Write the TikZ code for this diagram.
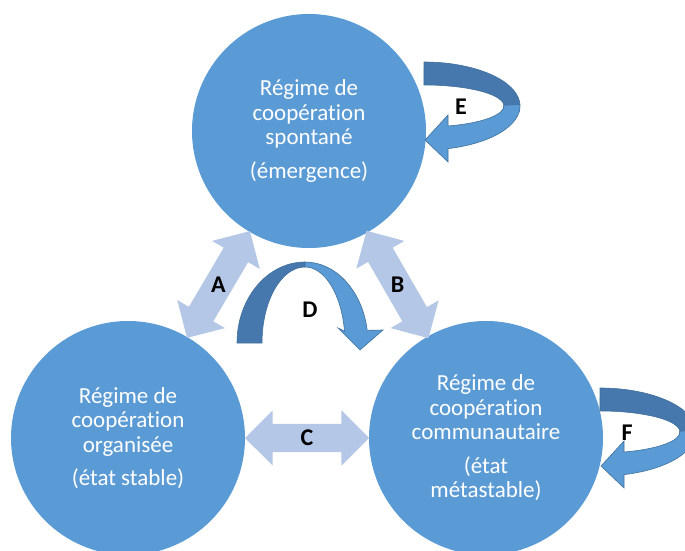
\documentclass[tikz,border=0pt]{standalone}
\usepackage{fontspec}
\setmainfont{Carlito}[Ligatures=NoCommon]
\usetikzlibrary{shapes.arrows}
\definecolor{bulle}{HTML}{5B9BD5}
\definecolor{pale}{HTML}{B4C7E7}
\definecolor{sombre}{HTML}{4677AD}
\definecolor{contour}{HTML}{41719C}

\begin{document}
\begin{tikzpicture}[x=1pt, y=1pt,
    regime/.style={circle, fill=bulle, minimum size=234pt, inner sep=0pt, text=white, align=center, font=\fontsize{23}{24.5}\selectfont},
    lien/.style={double arrow, fill=pale, double arrow head extend=13.5pt, inner xsep=0pt, inner ysep=14pt},
    lettre/.style={font=\fontsize{24}{24}\selectfont\bfseries},
    dos/.style={fill=sombre, draw=contour, line width=0.6pt},
    face/.style={fill=bulle, draw=contour, line width=0.6pt}]
    \useasboundingbox (0,0) rectangle (685,550);
    \clip (0,0) rectangle (685,550);

    % les trois regimes
    \node[regime] (spont) at (309,419) {Régime de\\coopération\\spontané\\[9pt](émergence)};
    \node[regime] (orga) at (128,112) {Régime de\\coopération\\organisée\\[9pt](état stable)};
    \node[regime] (commu) at (486,112) {Régime de\\coopération\\communautaire\\[9pt](état\\métastable)};

    % passages entre regimes
    \path (spont) -- node[lien, sloped, minimum height=124pt] (flA) {} (orga);
    \path (spont) -- node[lien, sloped, minimum height=124pt] (flB) {} (commu);
    \path (orga) -- node[lien, sloped, minimum height=124pt] (flC) {} (commu);

    % fleche courbe D
    \draw[dos] (237,207) arc[start angle=180, end angle=90, x radius=68, y radius=81] -- (305,283)
        arc[start angle=90, end angle=180, x radius=43, y radius=76] -- cycle;
    \draw[face] (305,288) arc[start angle=90, end angle=9, x radius=63, y radius=81] -- (383,220) -- (360,200)
        -- (338,222) -- (344.5,218.9) arc[start angle=9, end angle=90, x radius=40, y radius=76] -- cycle;

    % boucles E et F
    \foreach \cx/\cy in {424/444, 600/118} {
        \draw[dos] (\cx,\cy+44) arc[start angle=90, end angle=-8, x radius=96, y radius=44]
            -- (\cx+79.2,\cy-2.9) arc[start angle=-8, end angle=90, x radius=80, y radius=21] -- cycle;
        \draw[face] (\cx+95.9,\cy+1.5) arc[start angle=2, end angle=-75.5, x radius=96, y radius=44]
            -- (\cx+24,\cy-56) -- (\cx+1,\cy-34) -- (\cx+24,\cy-9) -- (\cx+24,\cy-20)
            arc[start angle=-72.5, end angle=2, x radius=80, y radius=21] -- cycle;
    }

    % lettres
    \node[lettre] (labA) at (flA) {A};
    \node[lettre] (labB) at (flB) {B};
    \node[lettre] (labC) at (flC) {C};
    \node[lettre] (labD) at (310,240) {D};
    \node[lettre] (labE) at (461,443) {E};
    \node[lettre] (labF) at (627,117) {F};
\end{tikzpicture}
\end{document}
